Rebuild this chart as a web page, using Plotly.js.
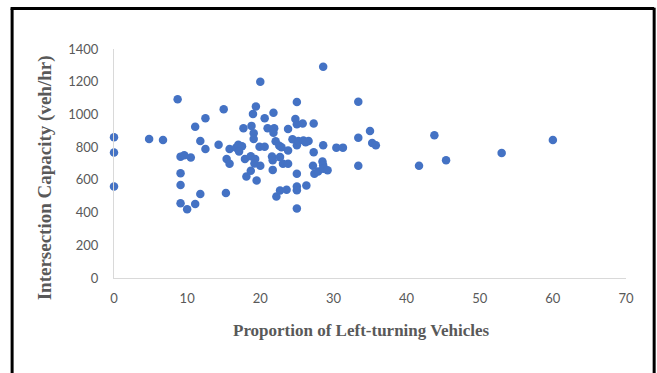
<!DOCTYPE html>
<html>
<head>
<meta charset="utf-8">
<script src="https://cdn.plot.ly/plotly-3.0.1.min.js"></script>
<style>
html,body{margin:0;padding:0;background:#fff;}
#chart{width:657px;height:373px;}
</style>
</head>
<body>
<div id="chart"></div>
<script>
// Proportion of left-turning vehicles (%)
const leftTurnPct = [
  0, 0, 0, 4.8, 6.7, 8.7, 9.1, 9.6, 10.5, 9.1,
  9.1, 9.1, 10.0, 11.1, 11.8, 11.1, 11.8, 12.5, 12.5, 14.3,
  15.0, 15.3, 15.4, 15.8, 15.8, 16.7, 17.0, 17.5, 17.1, 17.7,
  17.9, 18.1, 18.7, 18.7, 18.8, 19.0, 19.4, 19.1, 19.1, 19.3,
  19.2, 19.5, 20.0, 19.9, 20.0, 20.6, 20.6, 21.0, 21.8, 21.9,
  21.8, 21.6, 21.7, 21.7, 22.1, 22.6, 22.9, 22.7, 23.1, 23.8,
  22.2, 22.7, 23.6, 23.8, 23.8, 24.4, 24.8, 25.0, 25.0, 25.0,
  25.2, 25.9, 26.6, 25.8, 25.0, 25.0, 25.0, 25.0, 26.3, 27.3,
  27.3, 27.2, 27.4, 27.9, 28.5, 28.6, 28.6, 29.2, 28.6, 28.6,
  30.4, 31.3, 33.4, 33.4, 33.4, 35.0, 35.3, 35.8, 41.7, 43.8,
  45.4, 53.0, 60.0, 26.2
];
// Intersection capacity (veh/hr)
const capacity = [
  861, 767, 559, 850, 844, 1093, 742, 751, 736, 641,
  568, 457, 421, 452, 513, 925, 837, 977, 788, 814,
  1032, 519, 728, 698, 788, 797, 814, 806, 773, 916,
  728, 620, 655, 745, 930, 1003, 1048, 885, 850, 727,
  700, 596, 1200, 803, 686, 803, 977, 916, 1010, 916,
  888, 743, 720, 661, 836, 808, 800, 739, 698, 698,
  498, 535, 539, 911, 780, 848, 972, 1076, 940, 812,
  838, 840, 838, 944, 637, 559, 537, 425, 565, 944,
  769, 686, 637, 651, 712, 690, 668, 659, 812, 1292,
  797, 797, 1078, 858, 686, 899, 826, 812, 686, 873,
  720, 764, 844, 830
];
const xTitle = "Proportion of Left-turning Vehicles";
const yTitle = "Intersection Capacity (veh/hr)";

const trace = {
  x: leftTurnPct,
  y: capacity,
  type: 'scatter',
  mode: 'markers',
  cliponaxis: false,
  marker: {color: '#4472C4', size: 8.5, line: {width: 0}},
  hoverinfo: 'x+y'
};

const tickFont = {family: 'Lato, "Open Sans", sans-serif', size: 13, color: '#595959'};
const serif = '"Liberation Serif", "Times New Roman", serif';

const layout = {
  width: 657,
  height: 373,
  margin: {l: 114, r: 31, t: 49, b: 95, pad: 0},
  paper_bgcolor: '#ffffff',
  plot_bgcolor: '#ffffff',
  showlegend: false,
  xaxis: {
    range: [0, 70],
    dtick: 10,
    tick0: 0,
    showgrid: false,
    zeroline: false,
    showline: true,
    linecolor: '#D9D9D9',
    linewidth: 1,
    ticks: '',
    ticklabelstandoff: 8,
    tickfont: tickFont,
    automargin: false
  },
  yaxis: {
    range: [0, 1400],
    dtick: 200,
    tick0: 0,
    showgrid: false,
    zeroline: false,
    showline: true,
    linecolor: '#D9D9D9',
    linewidth: 1,
    ticks: '',
    ticklabelstandoff: 12,
    tickfont: tickFont,
    automargin: false
  },
  annotations: [
    {text: xTitle, xref: 'paper', yref: 'paper', x: 0.483, y: -0.228,
     xanchor: 'center', yanchor: 'middle', showarrow: false,
     font: {family: serif, size: 17, color: '#595959', weight: 'bold'}},
    {text: yTitle, xref: 'paper', yref: 'paper', x: -0.134, y: 0.437,
     xanchor: 'center', yanchor: 'middle', showarrow: false, textangle: -90,
     font: {family: serif, size: 19, color: '#595959', weight: 'bold'}}
  ],
  shapes: [
    {type: 'line', xref: 'paper', yref: 'paper',
     x0: -0.199, x1: -0.199, y0: 1.177, y1: -0.5,
     line: {color: '#000000', width: 3}},
    {type: 'line', xref: 'paper', yref: 'paper',
     x0: -0.202, x1: 1.055, y0: 1.177, y1: 1.177,
     line: {color: '#000000', width: 3}},
    {type: 'line', xref: 'paper', yref: 'paper',
     x0: 1.055, x1: 1.055, y0: 1.18, y1: -0.5,
     line: {color: '#000000', width: 3}}
  ]
};

Plotly.newPlot('chart', [trace], layout, {displayModeBar: false, staticPlot: true});
</script>
</body>
</html>
